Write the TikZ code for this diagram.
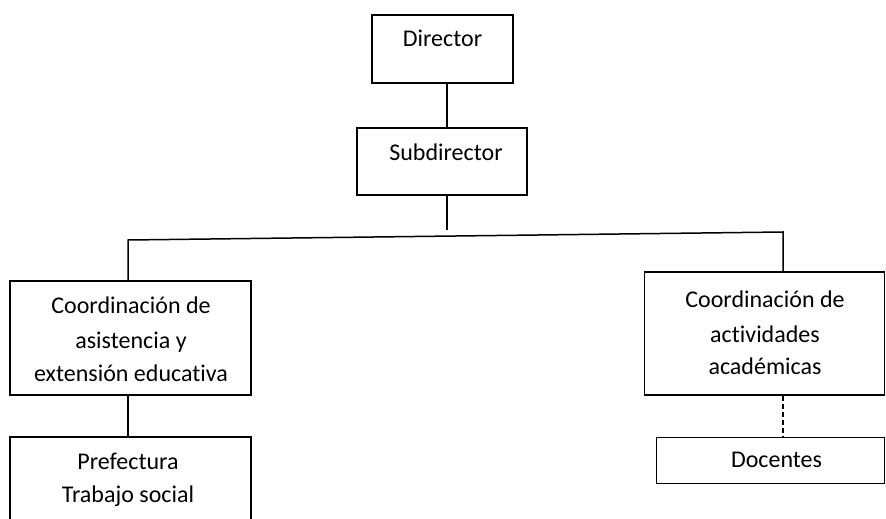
\documentclass[tikz,border=0pt]{standalone}
\usepackage{fontspec}
\setmainfont{Carlito}[Ligatures=NoCommon]
\begin{document}
\begin{tikzpicture}[x=1pt,y=-1pt,
  box/.style={draw,line width=1.5pt,rectangle,inner sep=0pt},
  txt/.style={inner sep=0pt,anchor=base,font=\fontsize{24}{28}\selectfont},
  conn/.style={line width=1.5pt}]
\useasboundingbox (0,0) rectangle (886,519);
\clip (0,0) rectangle (886,519);
% boxes
\node[box,minimum width=141pt,minimum height=68pt] (dir) at (442.5,49) {};
\node[box,minimum width=170pt,minimum height=67pt] (sub) at (442,161.5) {};
\node[box,minimum width=241pt,minimum height=114pt] (asi) at (130.5,338) {};
\node[box,minimum width=240pt,minimum height=123pt] (act) at (764.5,333.5) {};
\node[box,minimum width=228pt,minimum height=46pt] (doc) at (770.5,460.5) {};
\node[box,minimum width=241pt,minimum height=100pt] (pre) at (130.5,487) {};
% texts
\node[txt] (t1) at (442.5,47) {Director};
\node[txt] (t2) at (446,160) {Subdirector};
\node[txt] (t3) at (131,313) {Coordinación de};
\node[txt] (t4) at (131,348) {asistencia y};
\node[txt] (t5) at (131,381) {extensión educativa};
\node[txt] (t6) at (765,307) {Coordinación de};
\node[txt] (t7) at (765,342) {actividades};
\node[txt] (t8) at (765,374) {académicas};
\node[txt] (t9) at (128,469) {Prefectura};
\node[txt] (t10) at (128,502) {Trabajo social};
\node[txt] (t11) at (776.5,467) {Docentes};
% connectors
\coordinate (subend) at (447,230);
\coordinate (hl) at (128,240);
\coordinate (hr) at (783,232);
\draw[conn] (dir.south -| subend) -- (sub.north -| subend);
\draw[conn] (sub.south -| subend) -- (subend);
\draw[conn] (hl |- asi.north) -- (hl) -- (hr) -- (hr |- act.north);
\draw[conn] (asi.south -| hl) -- (pre.north -| hl);
\draw[conn,dash pattern=on 5pt off 3pt] (act.south -| hr) -- (doc.north -| hr);
\end{tikzpicture}
\end{document}
